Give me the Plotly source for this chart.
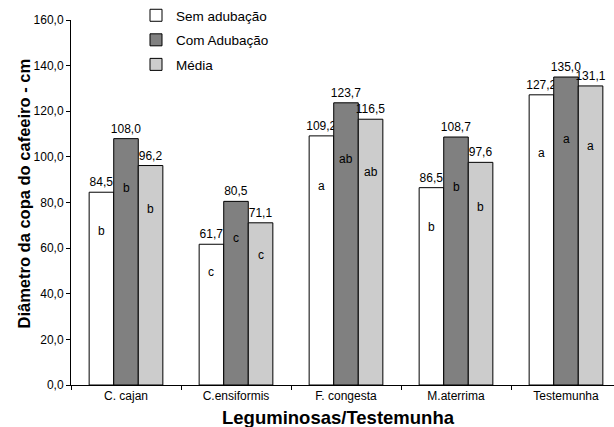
import plotly.graph_objects as go

categories = ["C. cajan", "C.ensiformis", "F. congesta", "M.aterrima", "Testemunha"]
sem_adubacao = [84.5, 61.7, 109.2, 86.5, 127.2]
com_adubacao = [108.0, 80.5, 123.7, 108.7, 135.0]
media = [96.2, 71.1, 116.5, 97.6, 131.1]
letras_sem = ["b", "c", "a", "b", "a"]
letras_com = ["b", "c", "ab", "b", "a"]
letras_media = ["b", "c", "ab", "b", "a"]
series_names = ["Sem adubação", "Com Adubação", "Média"]
y_ticks = [0, 20, 40, 60, 80, 100, 120, 140, 160]

FONT = "Arial"
colors = ["#ffffff", "#808080", "#cccccc"]

W, H = 614, 427
ML, MR, MT, MB = 71, 0, 20, 42
plot_w = W - ML - MR
plot_h = H - MT - MB
cat_px = 110.0
x_end = -0.5 + plot_w / cat_px
bargap = 0.33
bar_px = cat_px * (1 - bargap) / 3

fig = go.Figure()
all_vals = [sem_adubacao, com_adubacao, media]
all_letters = [letras_sem, letras_com, letras_media]
for i, (name, vals) in enumerate(zip(series_names, all_vals)):
    fig.add_trace(go.Bar(
        x=categories, y=vals, name=name,
        marker=dict(color=colors[i], line=dict(color="#000000", width=1)),
        texttemplate="%{y:.1f}", textposition="outside",
        textfont=dict(family=FONT, size=12, color="#000000"),
        outsidetextfont=dict(family=FONT, size=12, color="#000000"),
        constraintext="none", cliponaxis=False,
        legendgroup=name, hoverinfo="skip",
    ))

annotations = []
for i, (vals, lets) in enumerate(zip(all_vals, all_letters)):
    for c, v, l in zip(categories, vals, lets):
        annotations.append(dict(
            x=c, y=v * 0.8, xref="x", yref="y", text=l, showarrow=False,
            xshift=(i - 1) * bar_px,
            font=dict(family=FONT, size=12, color="#000000"),
        ))

annotations.append(dict(
    x=(23 - ML) / plot_w, y=(H - MB - 193.5) / plot_h, xref="paper", yref="paper",
    text="<b>Diâmetro da copa do cafeeiro - cm</b>", textangle=-90, showarrow=False,
    xanchor="center", yanchor="middle",
    font=dict(family=FONT, size=16.5, color="#000000"),
))
annotations.append(dict(
    x=(338 - ML) / plot_w, y=-(417.5 - (H - MB)) / plot_h, xref="paper", yref="paper",
    text="<b>Leguminosas/Testemunha</b>", showarrow=False,
    xanchor="center", yanchor="middle",
    font=dict(family=FONT, size=18.5, color="#000000"),
))

fig.update_layout(
    width=W, height=H,
    margin=dict(l=ML, r=MR, t=MT, b=MB, pad=0),
    paper_bgcolor="#ffffff", plot_bgcolor="#ffffff",
    barmode="group", bargap=bargap, bargroupgap=0,
    separators=",.",
    font=dict(family=FONT, size=12, color="#000000"),
    showlegend=True,
    legend=dict(
        x=(136 - ML) / plot_w, y=1 + (MT - 0) / plot_h,
        xanchor="left", yanchor="top",
        font=dict(family=FONT, size=13.5, color="#000000"),
        bgcolor="rgba(0,0,0,0)", borderwidth=0,
        tracegroupgap=4,
    ),
    annotations=annotations,
    xaxis=dict(
        range=[-0.5, x_end], showgrid=False, showline=True, linecolor="#000000", linewidth=1,
        ticks="outside", ticklen=4, tickcolor="#000000", tickson="boundaries",
        tickfont=dict(family=FONT, size=12, color="#000000"), zeroline=False,
    ),
    yaxis=dict(
        range=[0, 160], tickvals=y_ticks, tickformat=".1f", showgrid=False,
        showline=True, linecolor="#000000", linewidth=1,
        ticks="outside", ticklen=4, tickcolor="#000000",
        tickfont=dict(family=FONT, size=12, color="#000000"), zeroline=False,
    ),
)

fig.write_html(
    "out.html",
    config={"displayModeBar": False},
    post_script="document.body.style.margin='0';document.body.style.padding='0';",
)
